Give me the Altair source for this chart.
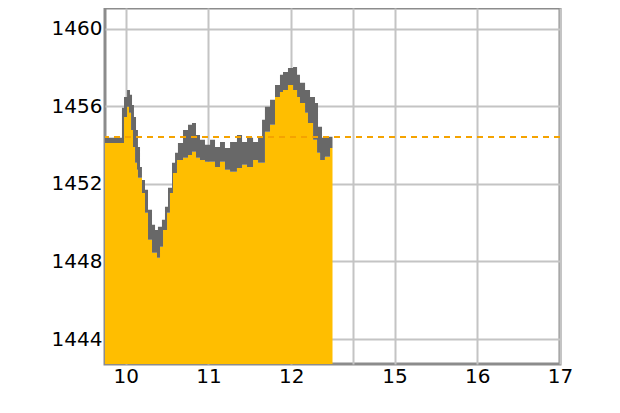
import altair as alt
import pandas as pd

# trading minutes since session open (morning 9:45-12:45, afternoon 14:30-17:00)
minutes = [0, 12.3, 13.8, 16.0, 17.4, 18.1, 18.9, 19.6, 20.3, 21.0, 21.8, 22.5, 23.2, 23.9,
           25.4, 26.8, 29.0, 31.2, 34.1, 36.3, 37.7, 38.4, 39.9, 41.3, 42.1, 43.5, 45.0, 45.7,
           47.1, 48.6, 49.3, 50.8, 52.2, 52.9, 56.6, 60.2, 63.1, 66.0, 68.9, 72.5, 76.2, 79.8,
           83.4, 87.0, 90.7, 95.7, 99.4, 103.0, 107.4, 111.0, 113.9, 116.0, 119.7, 123.3, 126.9,
           129.1, 132.7, 136.4, 139.3, 141.4, 145.1, 147.2, 148.7, 150.9, 152.3, 153.8, 154.5,
           156.0, 157.4, 159.5, 161.0, 163.2, 165.0]
high = [1454.38, 1455.93, 1456.49, 1456.85, 1456.85, 1456.60, 1456.60, 1456.08, 1456.08, 1455.46,
        1455.46, 1454.79, 1454.79, 1453.91, 1452.88, 1452.21, 1451.70, 1450.67, 1449.89, 1449.63,
        1449.63, 1449.79, 1449.79, 1450.15, 1450.15, 1450.82, 1450.82, 1451.80, 1451.80, 1453.09,
        1453.09, 1453.61, 1453.61, 1454.12, 1454.79, 1455.05, 1455.15, 1454.53, 1454.28, 1454.02,
        1454.28, 1453.91, 1454.17, 1453.86, 1454.17, 1454.53, 1454.17, 1454.38, 1454.17, 1454.43,
        1455.31, 1455.98, 1456.34, 1457.11, 1457.63, 1457.78, 1457.99, 1458.04, 1457.63, 1457.22,
        1456.85, 1456.85, 1456.49, 1456.49, 1456.18, 1456.18, 1454.95, 1454.95, 1454.38, 1454.38,
        1454.43, 1454.43, 1454.43]
low = [1454.12, 1454.12, 1455.46, 1455.98, 1455.67, 1455.67, 1454.79, 1454.79, 1453.91, 1453.91,
       1453.09, 1453.09, 1452.73, 1452.32, 1452.32, 1451.54, 1450.51, 1449.12, 1448.45, 1448.45,
       1448.19, 1448.19, 1448.76, 1448.76, 1449.63, 1449.63, 1450.51, 1450.51, 1451.54, 1451.54,
       1452.57, 1452.57, 1453.24, 1453.24, 1453.35, 1453.50, 1453.66, 1453.35, 1453.24, 1453.14,
       1453.14, 1452.88, 1453.14, 1452.73, 1452.63, 1452.83, 1452.99, 1452.88, 1453.24, 1453.09,
       1453.09, 1454.69, 1455.05, 1456.49, 1456.75, 1456.85, 1457.11, 1456.85, 1456.49, 1456.18,
       1455.67, 1455.15, 1455.15, 1454.28, 1454.28, 1453.61, 1453.61, 1453.24, 1453.24, 1453.40,
       1453.40, 1453.86, 1453.86]
prev_close = 1454.42

x_tick_values = [15, 75, 135, 180, 210, 270, 330]
x_tick_labels = ["10", "11", "12", "", "15", "16", "17"]
y_tick_values = [1444, 1448, 1452, 1456, 1460]

X_DOMAIN = [0, 330]
Y_DOMAIN = [1442.71, 1461.08]

ORANGE = "#FFBE00"
GRAY = "#686868"
DASH = "#F5A300"
GRID = "#C4C4C4"
FONT = "DejaVu Sans"

df = pd.DataFrame({"m": minutes, "high": high, "low": low})

label_expr = " : ".join(
    f"datum.value == {v} ? '{l}'" for v, l in zip(x_tick_values, x_tick_labels)
) + " : ''"

x_enc = alt.X(
    "m:Q",
    scale=alt.Scale(domain=X_DOMAIN, nice=False, zero=False),
    axis=alt.Axis(
        values=x_tick_values, labelExpr=label_expr, grid=True, gridColor=GRID,
        gridWidth=2, ticks=False, domain=False, labelFont=FONT, labelFontSize=20,
        labelColor="black", labelPadding=2, title=None, labelAngle=0,
        labelOverlap=False, labelFlush=False,
    ),
)
y_scale = alt.Scale(domain=Y_DOMAIN, nice=False, zero=False)
y_axis = alt.Axis(
    values=y_tick_values, grid=True, gridColor=GRID, gridWidth=2, ticks=False,
    domain=False, labelFont=FONT, labelFontSize=20, labelColor="black",
    labelPadding=3, title=None, format="d",
)

base = alt.Chart(df)

orange_area = base.mark_area(color=ORANGE, interpolate="step-after", opacity=1).encode(
    x=x_enc,
    y=alt.Y("low:Q", scale=y_scale, axis=y_axis),
    y2=alt.datum(Y_DOMAIN[0]),
)

gray_band = base.mark_area(color=GRAY, interpolate="step-after", opacity=1).encode(
    x=alt.X("m:Q"),
    y=alt.Y("high:Q"),
    y2=alt.Y2("low:Q"),
)

rule = alt.Chart(pd.DataFrame({"v": [prev_close]})).mark_rule(
    color=DASH, strokeDash=[6, 5], strokeWidth=2
).encode(y=alt.Y("v:Q"))

chart = (
    alt.layer(orange_area, gray_band, rule)
    .properties(
        width=455, height=356, autosize="none",
        padding={"left": 97, "top": 0, "right": 40, "bottom": 40},
        background="white",
    )
    .configure_view(stroke="#8C8C8C", strokeWidth=3)
)

chart.save("out.html", embed_options={"renderer": "svg", "actions": False})
